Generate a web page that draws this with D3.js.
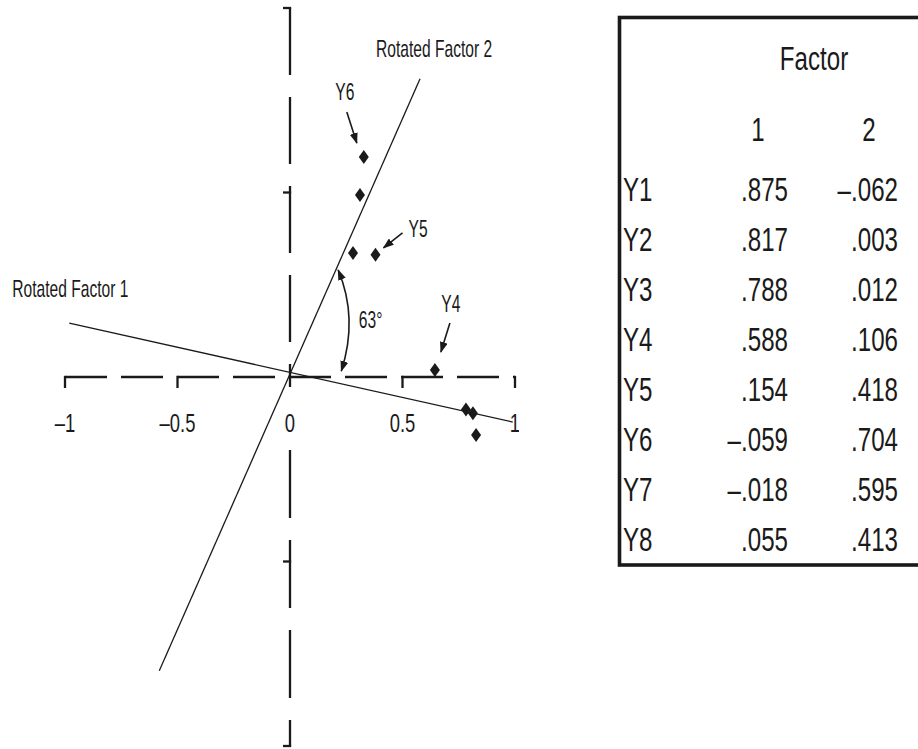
<!DOCTYPE html>
<html>
<head>
<meta charset="utf-8">
<script src="https://cdn.jsdelivr.net/npm/d3@7"></script>
<style>
  html, body { margin: 0; padding: 0; background: #fff; }
  svg { display: block; }
  text { font-family: "Liberation Sans", Arial, Helvetica, sans-serif; fill: #1a1a1a; }
</style>
</head>
<body>
<svg id="chart" width="918" height="749"></svg>
<script>
// Rotated factor loadings (table)
const variables = ["Y1", "Y2", "Y3", "Y4", "Y5", "Y6", "Y7", "Y8"];
const factor1 = [0.875, 0.817, 0.788, 0.588, 0.154, -0.059, -0.018, 0.055];
const factor2 = [-0.062, 0.003, 0.012, 0.106, 0.418, 0.704, 0.595, 0.413];

// Loadings plotted against the original (unrotated) axes
const pointX = [0.827, 0.813, 0.782, 0.644, 0.380, 0.328, 0.311, 0.280];
const pointY = [-0.157, -0.098, -0.088, 0.019, 0.331, 0.596, 0.493, 0.336];

const xTicks = [-1, -0.5, 0, 0.5, 1];
const yTicks = [-1, -0.5, 0.5, 1];

// End points of the rotated axes
const rotatedAxis1 = [[-0.981, 0.146], [0.99, -0.122]];
const rotatedAxis2 = [[-0.581, -0.796], [0.578, 0.808]];
const rotationAngle = 63;

const INK = "#1a1a1a";

const svg = d3.select("#chart");

const x = d3.scaleLinear().domain([-1, 1]).range([65, 515]);
const y = d3.scaleLinear().domain([-1, 1]).range([746, 8]);

// text in a condensed face: regular glyphs squeezed horizontally
function condensed(g, px, py, str, size, anchor, sx) {
  return g.append("text")
    .attr("transform", `translate(${px},${py}) scale(${sx || 0.71},1)`)
    .attr("text-anchor", anchor || "start")
    .style("font-size", size + "px")
    .text(str);
}

const fmtTick = t => (t < 0 ? "\u2013" : "") + Math.abs(t);
const fmtLoading = v => (v < 0 ? "\u2013" : "") + Math.abs(v).toFixed(3).replace(/^0/, "");

// arrowhead marker
const defs = svg.append("defs");
defs.append("marker")
  .attr("id", "head")
  .attr("viewBox", "0 0 11 8")
  .attr("refX", 10).attr("refY", 4)
  .attr("markerWidth", 11).attr("markerHeight", 8)
  .attr("markerUnits", "userSpaceOnUse")
  .attr("orient", "auto-start-reverse")
  .append("path").attr("d", "M0,0 L11,4 L0,8 Z").attr("fill", INK);

defs.append("clipPath").attr("id", "plotClip")
  .append("rect").attr("x", 0).attr("y", 0).attr("width", 519).attr("height", 749);

const plot = svg.append("g").attr("clip-path", "url(#plotClip)");

// ---- original axes (dashed) ----
const axisW = 2.3;
plot.append("line")
  .attr("x1", x(-1)).attr("x2", x(1)).attr("y1", y(0)).attr("y2", y(0))
  .attr("stroke", INK).attr("stroke-width", axisW).attr("stroke-dasharray", "42 14");

plot.append("line")
  .attr("x1", x(0)).attr("x2", x(0)).attr("y1", y(1)).attr("y2", y(0))
  .attr("stroke", INK).attr("stroke-width", axisW).attr("stroke-dasharray", "67 22");

plot.append("line")
  .attr("x1", x(0)).attr("x2", x(0)).attr("y1", y(0)).attr("y2", y(-1))
  .attr("stroke", INK).attr("stroke-width", axisW)
  .attr("stroke-dasharray", "10 63 68 22 68 22 68 22 68 22");

// x ticks and labels
xTicks.filter(t => t !== 0).forEach(t => {
  plot.append("line")
    .attr("x1", x(t)).attr("x2", x(t)).attr("y1", y(0) - axisW / 2).attr("y2", y(0) + 11)
    .attr("stroke", INK).attr("stroke-width", axisW);
});
xTicks.forEach(t => condensed(plot, x(t), y(0) + 55, fmtTick(t), 26, "middle", 0.71));

// y ticks
yTicks.forEach(t => {
  plot.append("line")
    .attr("x1", x(0) - 7).attr("x2", x(0) + axisW / 2).attr("y1", y(t)).attr("y2", y(t))
    .attr("stroke", INK).attr("stroke-width", axisW);
});

// ---- rotated axes ----
[rotatedAxis1, rotatedAxis2].forEach(seg => {
  plot.append("line")
    .attr("x1", x(seg[0][0])).attr("y1", y(seg[0][1]))
    .attr("x2", x(seg[1][0])).attr("y2", y(seg[1][1]))
    .attr("stroke", INK).attr("stroke-width", 1.3);
});

const LF = 24, LSX = 0.65;
condensed(plot, x(rotatedAxis2[1][0]) - 44, y(rotatedAxis2[1][1]) - 22, "Rotated Factor 2", LF, "start", LSX);
condensed(plot, x(rotatedAxis1[0][0]) - 57, y(rotatedAxis1[0][1]) - 26, "Rotated Factor 1", LF, "start", LSX);

// ---- points ----
const diamond = "M0,-7 L5,0 L0,7 L-5,0 Z";
plot.selectAll("path.pt")
  .data(variables.map((v, i) => ({ v, px: x(pointX[i]), py: y(pointY[i]) })))
  .join("path")
  .attr("class", "pt")
  .attr("d", diamond)
  .attr("transform", d => `translate(${d.px},${d.py})`)
  .attr("fill", INK);

// ---- point call-outs ----
const callouts = [
  { idx: 5, text: "Y6", anchor: "middle", lx: -19, ly: -57, a: [-17, -45], b: [-7, -14] },
  { idx: 4, text: "Y5", anchor: "start",  lx: 33,  ly: -18, a: [27, -22],  b: [8, -7] },
  { idx: 3, text: "Y4", anchor: "middle", lx: 16,  ly: -58, a: [15, -47],  b: [6, -18] }
];
callouts.forEach(c => {
  const px = x(pointX[c.idx]), py = y(pointY[c.idx]);
  condensed(plot, px + c.lx, py + c.ly, c.text, LF, c.anchor, LSX);
  plot.append("line")
    .attr("x1", px + c.a[0]).attr("y1", py + c.a[1])
    .attr("x2", px + c.b[0]).attr("y2", py + c.b[1])
    .attr("stroke", INK).attr("stroke-width", 1.6)
    .attr("marker-end", "url(#head)");
});

// ---- rotation angle arc ----
const arcStart = [0.214, 0.29], arcCtrl = [0.304, 0.16], arcEnd = [0.228, 0.016];
const arcPath = d3.path();
arcPath.moveTo(x(arcStart[0]), y(arcStart[1]));
arcPath.quadraticCurveTo(x(arcCtrl[0]), y(arcCtrl[1]), x(arcEnd[0]), y(arcEnd[1]));
plot.append("path")
  .attr("d", arcPath.toString())
  .attr("fill", "none").attr("stroke", INK).attr("stroke-width", 1.6)
  .attr("marker-start", "url(#head)").attr("marker-end", "url(#head)");
condensed(plot, x(0.306), y(0.133), rotationAngle + "\u00B0", LF, "start", LSX);

// ---- loadings table ----
const table = svg.append("g");
table.append("rect")
  .attr("x", 619.5).attr("y", 17.5).attr("width", 330).attr("height", 547.5)
  .attr("fill", "none").attr("stroke", INK).attr("stroke-width", 3.6);

const TF = 34;
const colLabel = 623, col1 = 788, col2 = 898;
condensed(table, 814, 70, "Factor", TF, "middle");
condensed(table, 758, 141, "1", TF, "middle");
condensed(table, 869, 141, "2", TF, "middle");

variables.forEach((v, i) => {
  const by = 201 + i * 50;
  condensed(table, colLabel, by, v, TF, "start");
  condensed(table, col1, by, fmtLoading(factor1[i]), TF, "end");
  condensed(table, col2, by, fmtLoading(factor2[i]), TF, "end");
});
</script>
</body>
</html>
